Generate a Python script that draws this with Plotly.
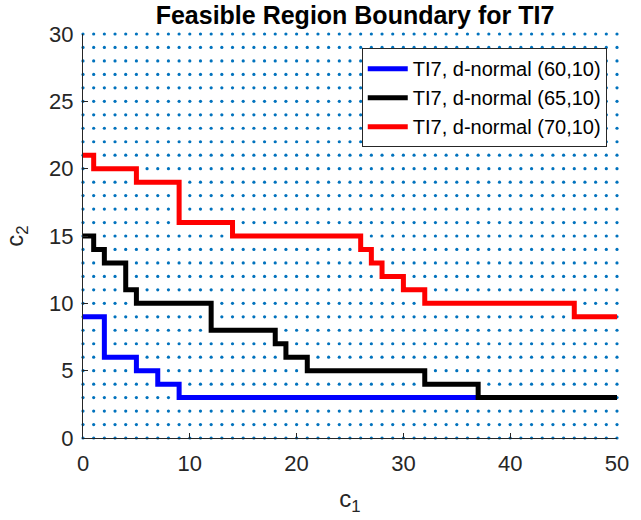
import numpy as np
import plotly.graph_objects as go

# Integer lattice of candidate (c1, c2) points
c1_grid = list(range(0, 51))
c2_grid = list(range(0, 31))

# Staircase boundaries (corner points, drawn horizontal-then-vertical)
blue_c1 = [0, 2, 5, 7, 9, 37]
blue_c2 = [9, 6, 5, 4, 3, 3]

black_c1 = [0, 1, 2, 4, 5, 12, 18, 19, 21, 32, 37, 50]
black_c2 = [15, 14, 13, 11, 10, 8, 7, 6, 5, 4, 3, 3]

red_c1 = [0, 1, 5, 9, 14, 26, 27, 28, 30, 32, 46, 50]
red_c2 = [21, 20, 19, 16, 15, 14, 13, 12, 11, 10, 9, 9]

series = [
    ("TI7, d-normal (60,10)", blue_c1, blue_c2, "#0000FF"),
    ("TI7, d-normal (65,10)", black_c1, black_c2, "#000000"),
    ("TI7, d-normal (70,10)", red_c1, red_c2, "#FF0000"),
]

FONT = "Liberation Sans, Arial, sans-serif"
AXIS_COLOR = "#262626"

gx, gy = np.meshgrid(c1_grid, c2_grid)

fig = go.Figure()
fig.add_trace(go.Scatter(
    x=gx.ravel(), y=gy.ravel(), mode="markers",
    marker=dict(size=3.2, color="#0072BD"),
    showlegend=False, hoverinfo="skip", cliponaxis=False,
))

for name, xs, ys, color in series:
    fig.add_trace(go.Scatter(
        x=xs, y=ys, mode="lines", name=name,
        line=dict(color=color, width=5, shape="hv"),
        cliponaxis=False,
    ))

fig.update_layout(
    width=641, height=520,
    margin=dict(l=83, r=14, t=34, b=82),
    paper_bgcolor="white", plot_bgcolor="white",
    font=dict(family=FONT, color=AXIS_COLOR),
    title=dict(
        text="<b>Feasible Region Boundary for TI7</b>",
        x=(152 + 558) / 2 / 641, xanchor="center",
        y=1 - 15 / 520, yanchor="middle",
        font=dict(size=25, color="black", family=FONT),
    ),
    legend=dict(
        x=0.522, y=0.965, xanchor="left", yanchor="top",
        bgcolor="white", bordercolor="#262626", borderwidth=1,
        font=dict(size=20, color="black", family=FONT),
        itemwidth=40, tracegroupgap=0,
    ),
    showlegend=True,
)

fig.update_xaxes(
    range=[0, 50], tickvals=[0, 10, 20, 30, 40, 50],
    ticks="inside", ticklen=5, tickcolor=AXIS_COLOR,
    showline=True, linecolor=AXIS_COLOR, linewidth=1,
    showgrid=False, zeroline=False, mirror=False,
    tickfont=dict(size=22, color=AXIS_COLOR), ticklabelstandoff=6,
    title=dict(text="c<sub>1</sub>", font=dict(size=24, color=AXIS_COLOR), standoff=14),
)
fig.update_yaxes(
    range=[0, 30], tickvals=[0, 5, 10, 15, 20, 25, 30],
    ticks="inside", ticklen=5, tickcolor=AXIS_COLOR,
    showline=True, linecolor=AXIS_COLOR, linewidth=1,
    showgrid=False, zeroline=False, mirror=False,
    tickfont=dict(size=22, color=AXIS_COLOR), ticklabelstandoff=4,
    title=dict(text="c<sub>2</sub>", font=dict(size=24, color=AXIS_COLOR), standoff=18),
)

fig.write_html("out.html")
